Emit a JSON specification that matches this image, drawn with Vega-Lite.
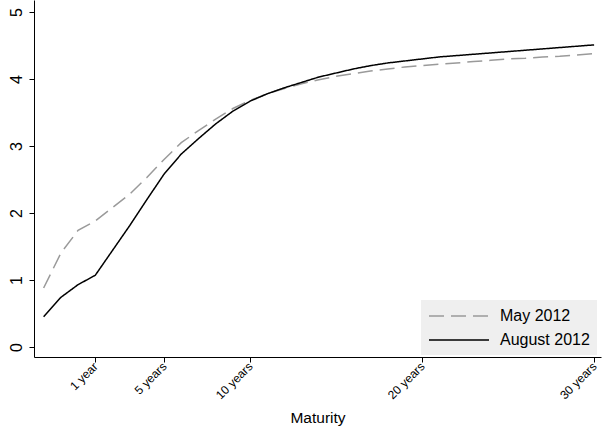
{
  "$schema": "https://vega.github.io/schema/vega-lite/v6.json",
  "autosize": "none",
  "width": 567,
  "height": 357,
  "padding": {"left": 34, "top": 0, "right": 2, "bottom": 71},
  "background": "white",
  "config": {
    "view": {"stroke": null},
    "font": "Liberation Sans",
    "axis": {
      "domainColor": "black",
      "tickColor": "black",
      "labelColor": "black",
      "titleColor": "black",
      "grid": false,
      "labelFont": "Liberation Sans",
      "titleFont": "Liberation Sans",
      "titleFontWeight": "normal",
      "tickSize": 5
    }
  },
  "data": {
    "values": [
      {"m": -2, "s": "May 2012", "v": 0.88},
      {"m": -1, "s": "May 2012", "v": 1.40},
      {"m": 0, "s": "May 2012", "v": 1.74},
      {"m": 1, "s": "May 2012", "v": 1.88},
      {"m": 2, "s": "May 2012", "v": 2.08},
      {"m": 3, "s": "May 2012", "v": 2.28},
      {"m": 4, "s": "May 2012", "v": 2.53},
      {"m": 5, "s": "May 2012", "v": 2.80},
      {"m": 6, "s": "May 2012", "v": 3.05},
      {"m": 7, "s": "May 2012", "v": 3.23},
      {"m": 8, "s": "May 2012", "v": 3.40},
      {"m": 9, "s": "May 2012", "v": 3.56},
      {"m": 10, "s": "May 2012", "v": 3.68},
      {"m": 11, "s": "May 2012", "v": 3.78},
      {"m": 12, "s": "May 2012", "v": 3.86},
      {"m": 13, "s": "May 2012", "v": 3.93},
      {"m": 14, "s": "May 2012", "v": 3.99},
      {"m": 15, "s": "May 2012", "v": 4.04},
      {"m": 16, "s": "May 2012", "v": 4.08},
      {"m": 17, "s": "May 2012", "v": 4.12},
      {"m": 18, "s": "May 2012", "v": 4.15},
      {"m": 19, "s": "May 2012", "v": 4.18},
      {"m": 20, "s": "May 2012", "v": 4.20},
      {"m": 21, "s": "May 2012", "v": 4.22},
      {"m": 22, "s": "May 2012", "v": 4.24},
      {"m": 23, "s": "May 2012", "v": 4.26},
      {"m": 24, "s": "May 2012", "v": 4.28},
      {"m": 25, "s": "May 2012", "v": 4.30},
      {"m": 26, "s": "May 2012", "v": 4.31},
      {"m": 27, "s": "May 2012", "v": 4.33},
      {"m": 28, "s": "May 2012", "v": 4.34},
      {"m": 29, "s": "May 2012", "v": 4.36},
      {"m": 30, "s": "May 2012", "v": 4.38},
      {"m": -2, "s": "August 2012", "v": 0.45},
      {"m": -1, "s": "August 2012", "v": 0.74},
      {"m": 0, "s": "August 2012", "v": 0.93},
      {"m": 1, "s": "August 2012", "v": 1.07},
      {"m": 2, "s": "August 2012", "v": 1.44},
      {"m": 3, "s": "August 2012", "v": 1.81},
      {"m": 4, "s": "August 2012", "v": 2.20},
      {"m": 5, "s": "August 2012", "v": 2.58},
      {"m": 6, "s": "August 2012", "v": 2.88},
      {"m": 7, "s": "August 2012", "v": 3.11},
      {"m": 8, "s": "August 2012", "v": 3.33},
      {"m": 9, "s": "August 2012", "v": 3.52},
      {"m": 10, "s": "August 2012", "v": 3.67},
      {"m": 11, "s": "August 2012", "v": 3.78},
      {"m": 12, "s": "August 2012", "v": 3.87},
      {"m": 13, "s": "August 2012", "v": 3.95},
      {"m": 14, "s": "August 2012", "v": 4.03},
      {"m": 15, "s": "August 2012", "v": 4.09},
      {"m": 16, "s": "August 2012", "v": 4.15},
      {"m": 17, "s": "August 2012", "v": 4.20},
      {"m": 18, "s": "August 2012", "v": 4.24},
      {"m": 19, "s": "August 2012", "v": 4.27},
      {"m": 20, "s": "August 2012", "v": 4.30},
      {"m": 21, "s": "August 2012", "v": 4.33},
      {"m": 22, "s": "August 2012", "v": 4.35},
      {"m": 23, "s": "August 2012", "v": 4.37},
      {"m": 24, "s": "August 2012", "v": 4.39},
      {"m": 25, "s": "August 2012", "v": 4.41},
      {"m": 26, "s": "August 2012", "v": 4.43},
      {"m": 27, "s": "August 2012", "v": 4.45},
      {"m": 28, "s": "August 2012", "v": 4.47},
      {"m": 29, "s": "August 2012", "v": 4.49},
      {"m": 30, "s": "August 2012", "v": 4.51}
    ]
  },
  "mark": {"type": "line", "strokeWidth": 1.5},
  "encoding": {
    "x": {
      "field": "m",
      "type": "quantitative",
      "scale": {"domain": [-2.56, 30.4], "nice": false, "zero": false},
      "axis": {
        "values": [1, 5, 10, 20, 30],
        "labelExpr": "datum.value == 1 ? '1 year' : datum.value + ' years'",
        "labelAngle": -45,
        "labelAlign": "right",
        "labelBaseline": "middle",
        "labelFontSize": 12,
        "labelPadding": 2,
        "title": "Maturity",
        "titleFontSize": 15.5,
        "titlePadding": 10
      }
    },
    "y": {
      "field": "v",
      "type": "quantitative",
      "scale": {"domain": [-0.15, 5.18], "nice": false, "zero": false},
      "axis": {
        "values": [0, 1, 2, 3, 4, 5],
        "labelAngle": -90,
        "labelFontSize": 16,
        "labelPadding": 5,
        "title": null,
        "encode": {
          "labels": {
            "update": {
              "angle": {"value": -90},
              "align": {"value": "center"},
              "baseline": {"value": "bottom"}
            }
          }
        }
      }
    },
    "color": {
      "field": "s",
      "type": "nominal",
      "sort": ["May 2012", "August 2012"],
      "scale": {"domain": ["May 2012", "August 2012"], "range": ["#9a9a9a", "#000000"]},
      "legend": {
        "title": null,
        "orient": "none",
        "legendX": 387,
        "legendY": 300,
        "fillColor": "#efefef",
        "padding": 7,
        "symbolType": "M-1,0H6.5",
        "symbolSize": 256,
        "symbolStrokeWidth": 1.5,
        "labelFontSize": 16,
        "labelFont": "Liberation Sans",
        "labelColor": "black",
        "labelOffset": 54,
        "rowPadding": 7
      }
    },
    "strokeDash": {
      "field": "s",
      "type": "nominal",
      "sort": ["May 2012", "August 2012"],
      "scale": {"domain": ["May 2012", "August 2012"], "range": [[15, 7], [1, 0]]},
      "legend": null
    }
  }
}
